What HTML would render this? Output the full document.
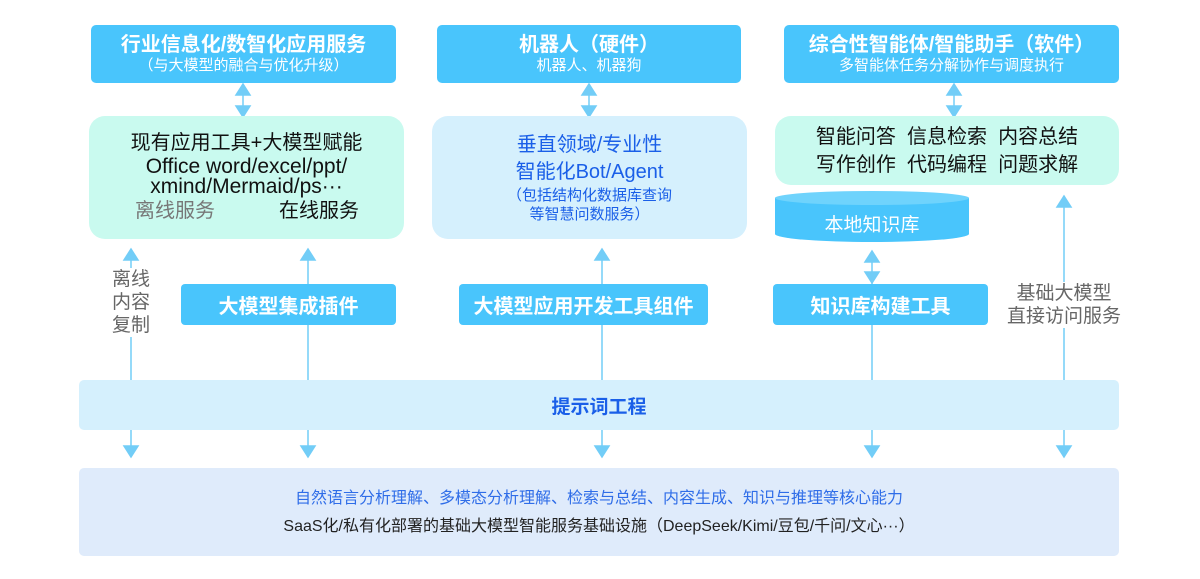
<!DOCTYPE html>
<html><head><meta charset="utf-8"><style>
*{margin:0;padding:0;box-sizing:border-box}
body{width:1200px;height:579px;background:#fff;position:relative;overflow:hidden;font-family:"Liberation Sans","Noto Sans CJK SC",sans-serif}
.a{position:absolute}
.c{display:flex;flex-direction:column;align-items:center;justify-content:center;text-align:center}
.top{background:#49c5fc;color:#fff;border-radius:5px}
.t1{font-size:20px;font-weight:bold;line-height:24px}
.t2{font-size:15px;line-height:18px}
.tool{background:#49c5fc;color:#fff;border-radius:4px;font-size:20px;font-weight:bold}
.lbl{color:#666;font-size:19px;line-height:23px;background:#fff}
</style></head><body>
<svg class="a" style="left:0;top:0" width="1200" height="579">
<g stroke="#72cdf7" stroke-width="1.5" fill="#72cdf7">
<line x1="243" y1="90" x2="243" y2="112"/><polygon points="236,95 250,95 243,84"/><polygon points="236,106 250,106 243,117"/>
<line x1="589" y1="90" x2="589" y2="112"/><polygon points="582,95 596,95 589,84"/><polygon points="582,106 596,106 589,117"/>
<line x1="954" y1="90" x2="954" y2="112"/><polygon points="947,95 961,95 954,84"/><polygon points="947,106 961,106 954,117"/>
<line x1="131" y1="255" x2="131" y2="448"/><polygon points="124,260 138,260 131,249"/><polygon points="124,446 138,446 131,457"/>
<line x1="308" y1="255" x2="308" y2="448"/><polygon points="301,260 315,260 308,249"/><polygon points="301,446 315,446 308,457"/>
<line x1="602" y1="255" x2="602" y2="448"/><polygon points="595,260 609,260 602,249"/><polygon points="595,446 609,446 602,457"/>
<line x1="872" y1="252" x2="872" y2="448"/><polygon points="865,262 879,262 872,251"/><polygon points="865,272 879,272 872,283"/><polygon points="865,446 879,446 872,457"/>
<line x1="1064" y1="200" x2="1064" y2="448"/><polygon points="1057,207 1071,207 1064,196"/><polygon points="1057,446 1071,446 1064,457"/>
</g>
</svg>

<div class="a c top" style="left:91px;top:25px;width:305px;height:58px"><div class="t1">行业信息化/数智化应用服务</div><div class="t2">（与大模型的融合与优化升级）</div></div>
<div class="a c top" style="left:437px;top:25px;width:304px;height:58px"><div class="t1">机器人（硬件）</div><div class="t2">机器人、机器狗</div></div>
<div class="a c top" style="left:784px;top:25px;width:335px;height:58px"><div class="t1">综合性智能体/智能助手（软件）</div><div class="t2">多智能体任务分解协作与调度执行</div></div>

<div class="a c" style="left:89px;top:116px;width:315px;height:123px;background:#c9faef;border-radius:16px;color:#111">
<div style="font-size:20px;line-height:25px;margin-bottom:1px">现有应用工具+大模型赋能</div>
<div style="font-size:21px;line-height:20px">Office word/excel/ppt/<br>xmind/Mermaid/ps···</div>
<div style="font-size:20px;line-height:28px;width:100%;display:flex;justify-content:space-between;padding:0 45px 0 46px"><span style="color:#777">离线服务</span><span>在线服务</span></div>
</div>
<div class="a c" style="left:432px;top:116px;width:315px;height:123px;background:#d5f0fd;border-radius:16px;color:#1a5fe8">
<div style="font-size:20px;line-height:27px">垂直领域/专业性</div>
<div style="font-size:20px;line-height:27px">智能化Bot/Agent</div>
<div style="font-size:15px;line-height:19px">（包括结构化数据库查询<br>等智慧问数服务）</div>
</div>
<div class="a c" style="left:775px;top:116px;width:344px;height:69px;background:#c9faef;border-radius:16px;color:#111;font-size:20px;line-height:28px">
<div>智能问答&nbsp;&nbsp;信息检索&nbsp;&nbsp;内容总结</div><div>写作创作&nbsp;&nbsp;代码编程&nbsp;&nbsp;问题求解</div>
</div>
<svg class="a" style="left:775px;top:190px" width="194" height="53">
<path d="M0,8 L0,44 A97,8 0 0 0 194,44 L194,8 Z" fill="#49c5fc"/>
<ellipse cx="97" cy="8" rx="97" ry="7" fill="#6fd3fc"/>
</svg>
<div class="a c" style="left:775px;top:208px;width:194px;height:30px;color:#fff;font-size:19px">本地知识库</div>

<div class="a c lbl" style="left:108px;top:268px;width:46px">离线<br>内容<br>复制</div>
<div class="a c lbl" style="left:998px;top:282px;width:132px">基础大模型<br>直接访问服务</div>

<div class="a c tool" style="left:181px;top:284px;width:215px;height:41px">大模型集成插件</div>
<div class="a c tool" style="left:459px;top:284px;width:249px;height:41px">大模型应用开发工具组件</div>
<div class="a c tool" style="left:773px;top:284px;width:215px;height:41px">知识库构建工具</div>

<div class="a c" style="left:79px;top:380px;width:1040px;height:50px;background:#d5f0fd;border-radius:5px;color:#1a5fe8;font-size:19px;font-weight:bold">提示词工程</div>
<div class="a c" style="left:79px;top:468px;width:1040px;height:88px;background:#dfebfb;border-radius:5px">
<div style="color:#2f6de8;font-size:16px;line-height:30px">自然语言分析理解、多模态分析理解、检索与总结、内容生成、知识与推理等核心能力</div>
<div style="color:#222;font-size:16px;line-height:26px">SaaS化/私有化部署的基础大模型智能服务基础设施（DeepSeek/Kimi/豆包/千问/文心···）</div>
</div>
</body></html>
